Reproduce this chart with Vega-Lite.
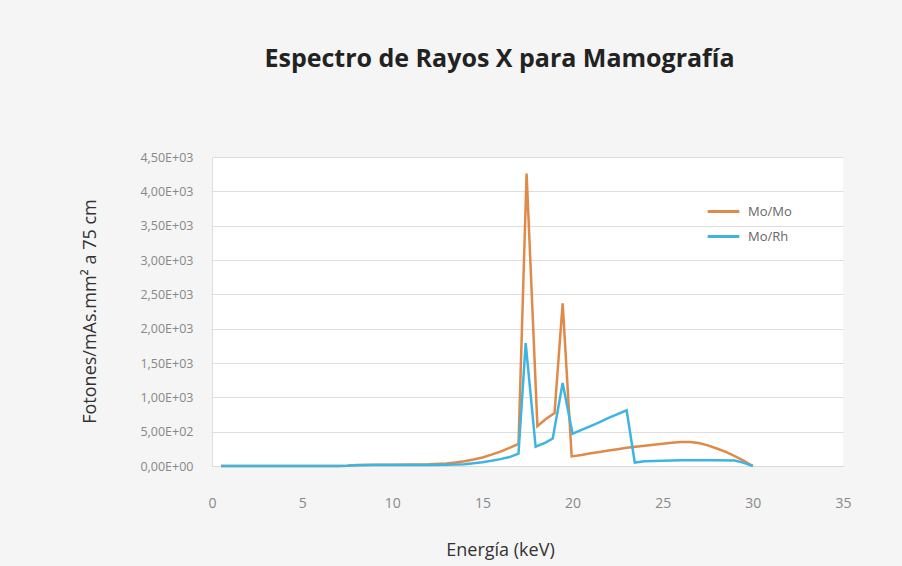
{
  "$schema": "https://vega.github.io/schema/vega-lite/v6.json",
  "width": 631,
  "height": 309,
  "autosize": {"type": "none"},
  "padding": {"left": 212, "top": 157, "right": 59, "bottom": 100},
  "background": "#f5f5f5",
  "config": {
    "view": {"stroke": null, "fill": "#ffffff"},
    "font": "Open Sans"
  },
  "title": {
    "text": "Espectro de Rayos X para Mamografía",
    "font": "Open Sans",
    "fontSize": 25,
    "fontWeight": "bold",
    "color": "#222222",
    "anchor": "middle",
    "dx": -28,
    "offset": 79
  },
  "data": {
    "values": [
      {"e": 0.5, "s": "Mo/Mo", "f": 0}, {"e": 1, "s": "Mo/Mo", "f": 0}, {"e": 2, "s": "Mo/Mo", "f": 0}, {"e": 3, "s": "Mo/Mo", "f": 0}, {"e": 4, "s": "Mo/Mo", "f": 0}, {"e": 5, "s": "Mo/Mo", "f": 0}, {"e": 6, "s": "Mo/Mo", "f": 0}, {"e": 7, "s": "Mo/Mo", "f": 0}, {"e": 7.5, "s": "Mo/Mo", "f": 3}, {"e": 8, "s": "Mo/Mo", "f": 15}, {"e": 9, "s": "Mo/Mo", "f": 18}, {"e": 10, "s": "Mo/Mo", "f": 20}, {"e": 11, "s": "Mo/Mo", "f": 22}, {"e": 12, "s": "Mo/Mo", "f": 25}, {"e": 13, "s": "Mo/Mo", "f": 35}, {"e": 13.5, "s": "Mo/Mo", "f": 50}, {"e": 14, "s": "Mo/Mo", "f": 70}, {"e": 14.5, "s": "Mo/Mo", "f": 95}, {"e": 15, "s": "Mo/Mo", "f": 125}, {"e": 15.5, "s": "Mo/Mo", "f": 165}, {"e": 16, "s": "Mo/Mo", "f": 210}, {"e": 16.5, "s": "Mo/Mo", "f": 265}, {"e": 17, "s": "Mo/Mo", "f": 320}, {"e": 17.45, "s": "Mo/Mo", "f": 4260}, {"e": 18.05, "s": "Mo/Mo", "f": 580}, {"e": 18.5, "s": "Mo/Mo", "f": 680}, {"e": 19, "s": "Mo/Mo", "f": 770}, {"e": 19.45, "s": "Mo/Mo", "f": 2370}, {"e": 19.95, "s": "Mo/Mo", "f": 140}, {"e": 20.5, "s": "Mo/Mo", "f": 160}, {"e": 21, "s": "Mo/Mo", "f": 185}, {"e": 21.5, "s": "Mo/Mo", "f": 205}, {"e": 22, "s": "Mo/Mo", "f": 225}, {"e": 22.5, "s": "Mo/Mo", "f": 245}, {"e": 23, "s": "Mo/Mo", "f": 265}, {"e": 23.5, "s": "Mo/Mo", "f": 280}, {"e": 24, "s": "Mo/Mo", "f": 295}, {"e": 24.5, "s": "Mo/Mo", "f": 310}, {"e": 25, "s": "Mo/Mo", "f": 325}, {"e": 25.5, "s": "Mo/Mo", "f": 338}, {"e": 26, "s": "Mo/Mo", "f": 348}, {"e": 26.5, "s": "Mo/Mo", "f": 350}, {"e": 27, "s": "Mo/Mo", "f": 335}, {"e": 27.5, "s": "Mo/Mo", "f": 300}, {"e": 28, "s": "Mo/Mo", "f": 255}, {"e": 28.5, "s": "Mo/Mo", "f": 205}, {"e": 29, "s": "Mo/Mo", "f": 145}, {"e": 29.5, "s": "Mo/Mo", "f": 75}, {"e": 30, "s": "Mo/Mo", "f": 0},
      {"e": 0.5, "s": "Mo/Rh", "f": 0}, {"e": 1, "s": "Mo/Rh", "f": 0}, {"e": 2, "s": "Mo/Rh", "f": 0}, {"e": 3, "s": "Mo/Rh", "f": 0}, {"e": 4, "s": "Mo/Rh", "f": 0}, {"e": 5, "s": "Mo/Rh", "f": 0}, {"e": 6, "s": "Mo/Rh", "f": 0}, {"e": 7, "s": "Mo/Rh", "f": 0}, {"e": 7.5, "s": "Mo/Rh", "f": 3}, {"e": 8, "s": "Mo/Rh", "f": 12}, {"e": 9, "s": "Mo/Rh", "f": 13}, {"e": 10, "s": "Mo/Rh", "f": 14}, {"e": 11, "s": "Mo/Rh", "f": 14}, {"e": 12, "s": "Mo/Rh", "f": 15}, {"e": 13, "s": "Mo/Rh", "f": 18}, {"e": 14, "s": "Mo/Rh", "f": 25}, {"e": 14.5, "s": "Mo/Rh", "f": 40}, {"e": 15, "s": "Mo/Rh", "f": 55}, {"e": 15.5, "s": "Mo/Rh", "f": 75}, {"e": 16, "s": "Mo/Rh", "f": 100}, {"e": 16.5, "s": "Mo/Rh", "f": 130}, {"e": 17, "s": "Mo/Rh", "f": 180}, {"e": 17.4, "s": "Mo/Rh", "f": 1790}, {"e": 17.95, "s": "Mo/Rh", "f": 280}, {"e": 18.5, "s": "Mo/Rh", "f": 340}, {"e": 18.9, "s": "Mo/Rh", "f": 400}, {"e": 19.45, "s": "Mo/Rh", "f": 1210}, {"e": 20, "s": "Mo/Rh", "f": 470}, {"e": 20.5, "s": "Mo/Rh", "f": 525}, {"e": 21, "s": "Mo/Rh", "f": 580}, {"e": 21.5, "s": "Mo/Rh", "f": 640}, {"e": 22, "s": "Mo/Rh", "f": 700}, {"e": 22.5, "s": "Mo/Rh", "f": 755}, {"e": 23, "s": "Mo/Rh", "f": 810}, {"e": 23.45, "s": "Mo/Rh", "f": 50}, {"e": 24, "s": "Mo/Rh", "f": 70}, {"e": 25, "s": "Mo/Rh", "f": 78}, {"e": 26, "s": "Mo/Rh", "f": 82}, {"e": 27, "s": "Mo/Rh", "f": 85}, {"e": 28, "s": "Mo/Rh", "f": 85}, {"e": 29, "s": "Mo/Rh", "f": 80}, {"e": 29.5, "s": "Mo/Rh", "f": 45}, {"e": 30, "s": "Mo/Rh", "f": 0}
    ]
  },
  "mark": {"type": "line", "strokeWidth": 2.5, "interpolate": "linear"},
  "encoding": {
    "x": {
      "field": "e",
      "type": "quantitative",
      "scale": {"domain": [0, 35], "nice": false},
      "axis": {
        "values": [0, 5, 10, 15, 20, 25, 30, 35],
        "title": "Energía (keV)",
        "titleFontSize": 18,
        "titleFontWeight": "normal",
        "titleColor": "#333333",
        "titleX": 288,
        "titleY": 84,
        "titleBaseline": "middle",
        "grid": false,
        "ticks": false,
        "tickSize": 0,
        "domain": true,
        "domainColor": "#d9d9d9",
        "labelFontSize": 14,
        "labelColor": "#888888",
        "labelPadding": 30,
        "labelBaseline": "top",
        "labelFlush": false
      }
    },
    "y": {
      "field": "f",
      "type": "quantitative",
      "scale": {"domain": [0, 4500], "nice": false},
      "axis": {
        "values": [0, 500, 1000, 1500, 2000, 2500, 3000, 3500, 4000, 4500],
        "labelExpr": "datum.value == 0 ? '0,00E+00' : (datum.value < 1000 ? replace(format(datum.value / 100, '.2f'), '.', ',') + 'E+02' : replace(format(datum.value / 1000, '.2f'), '.', ',') + 'E+03')",
        "title": "Fotones/mAs.mm² a 75 cm",
        "titleFontSize": 18,
        "titleFontWeight": "normal",
        "titleColor": "#333333",
        "titleAngle": 270,
        "titleX": -122,
        "titleY": 154,
        "titleAlign": "center",
        "titleBaseline": "middle",
        "grid": true,
        "gridColor": "#dddddd",
        "gridWidth": 1.2,
        "ticks": false,
        "tickSize": 0,
        "domain": true,
        "domainColor": "#dddddd",
        "labelFontSize": 12.5,
        "labelColor": "#888888",
        "labelPadding": 19,
        "labelFlush": false
      }
    },
    "color": {
      "field": "s",
      "type": "nominal",
      "scale": {"domain": ["Mo/Mo", "Mo/Rh"], "range": ["#df8a48", "#3fb4e2"]},
      "legend": {
        "title": null,
        "orient": "none",
        "legendX": 494,
        "legendY": 37,
        "symbolType": "stroke",
        "symbolSize": 1000,
        "symbolStrokeWidth": 3,
        "labelFontSize": 13,
        "labelColor": "#666666",
        "rowPadding": -10,
        "labelOffset": 7
      }
    }
  }
}
